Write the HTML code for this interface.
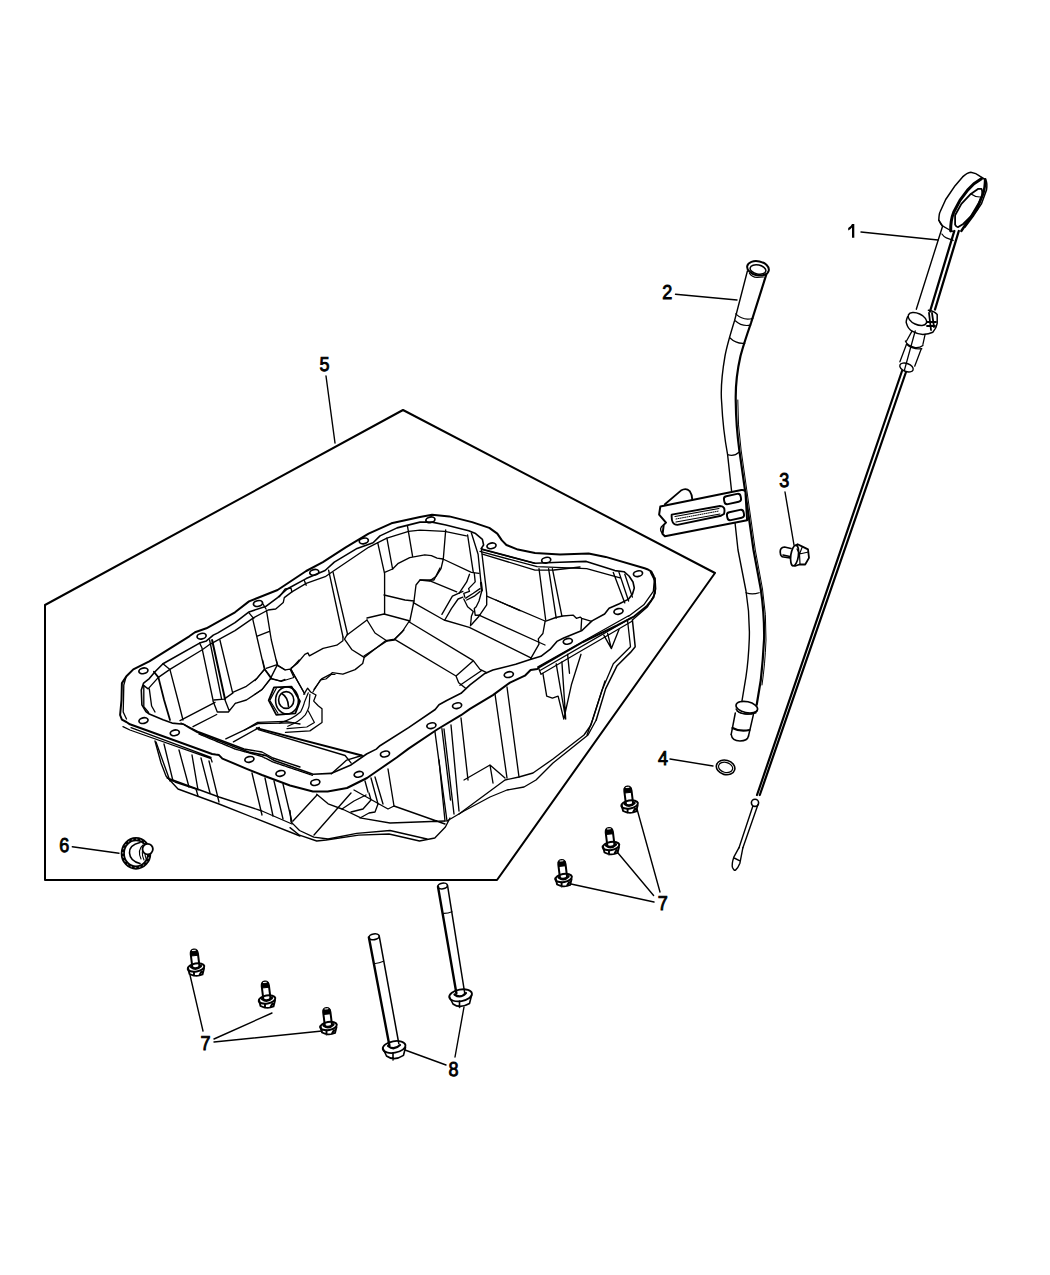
<!DOCTYPE html>
<html><head><meta charset="utf-8">
<style>
html,body{margin:0;padding:0;background:#fff;}
body{width:1050px;height:1275px;overflow:hidden;}
svg{display:block;}
text{font-family:"Liberation Sans",sans-serif;text-rendering:geometricPrecision;font-size:20px;fill:#000;stroke:#000;stroke-width:0.9px;}
</style></head><body>
<svg width="1050" height="1275" viewBox="0 0 1050 1275">
<defs>
<g id="b7" fill="none" stroke="#000" stroke-linecap="round" stroke-linejoin="round">
<g transform="rotate(-7)">
<path d="M-3.6,-1 L-3.6,-14 Q-3.4,-18.2 0,-18.2 Q3.4,-18.2 3.6,-13.5 L3.6,-1" stroke-width="2"/>
<path d="M-3.4,-16.5 L3.4,-16.5 L3.4,-12 L-3.4,-12 Z" fill="#000" stroke-width="1"/>
<path d="M-1.5,-17.3 L1.5,-17.3" stroke="#fff" stroke-width="1"/>
</g>
<ellipse cx="0" cy="0" rx="8.4" ry="4" transform="rotate(-10)" stroke-width="2"/>
<path d="M-4.8,-0.5 Q0,3.2 4.8,-1.5" stroke-width="2.6"/>
<path d="M-7.8,1 L-6.5,6.5 Q0,10 6.5,7 L8,1 M-2,8.5 L-2,4.5 M3.5,7.5 L5.5,4" stroke-width="1.9"/>
</g>
</defs>

<g fill="none" stroke="#000" stroke-linecap="round" stroke-linejoin="round">
<!-- frame -->
<path id="frame" d="M45,605 L403,410 L715,573 L497,880 L45,880 Z" stroke-width="2"/>
<!-- leaders -->
<path d="M861,232 L938,240" stroke-width="1.4"/>
<path d="M675.5,294.2 L737,300" stroke-width="1.4"/>
<path d="M785,492 L794,545" stroke-width="1.4"/>
<path d="M670,759 L713,766" stroke-width="1.4"/>
<path d="M326,376 L335,443" stroke-width="1.4"/>
<path d="M72.3,846.8 L119,853.2" stroke-width="1.4"/>
<path d="M637,809 L660,892 M618,853 L653.6,895.5 M571,884 L654,902" stroke-width="1.4"/>
<path d="M203,1031 L190,975 M214,1039 L272,1013 M214,1042 L322,1031" stroke-width="1.4"/>
<path d="M446,1065 L405,1050 M455,1057 L464,1007" stroke-width="1.4"/>
</g>

<!-- pan -->
<g id="pan" fill="none" stroke="#000" stroke-linecap="round" stroke-linejoin="round">
<path stroke-width="2" d="M121.5,700 L120.1,715 L121.9,719.7 L126.4,722 L129.9,724.3 L212.1,754 L215.6,754.6 L219,755.1 L222.4,758.6 L246.7,768.8 L262,775 L290,785.5 L312.9,791.5 L327.7,791.5 L347,788 L367,778 L380,769 L396.7,757.5 L408.6,748.6 L437.1,729.5 L461,715.2 L470,708.9 L492.9,695.1 L510,682.6 L524.9,675.7 L530.6,670 L537.4,668.9 L538.6,667.7 L582.9,642 L617,625.4 L634.3,616.3 L646.9,606 L651,601 L653.7,596.9 L655.4,588.9 L655,582 L653.7,576.3 L651.4,571.7 L648,569.5 L644.6,568.3 L605.7,556.9 L588.6,553.4 L560,554.6 L535,553 L517.9,549.6 L506.4,545 L501.9,540.4 L497.3,533.6 L489.3,527.9 L472.1,522.1 L449.3,516.4 L432.1,514.7 L420,517 L391.4,523.3 L368.6,533.6 L345.7,547.3 L322.9,562.1 L306.2,571 L277.6,590 L249,601.4 L235,612.3 L206.4,628.3 L195,632.3 L189.3,636.3 L149.3,661.4 L133.3,669.4 L126.4,676.3 L121.9,683.1 Z"/>
<path stroke-width="1.6" d="M141.3,690 L141.9,704.9 L145.9,711.7 L149.3,714 L163,719.7 L172.1,723.1 L183.6,724.3 L189.3,727.7 L197.3,732.3 L235,747.1 L250,752.4 L266.2,755.6 L274.3,760.5 L313.1,774.2 L331,773.4 L350.4,765.3 L366.6,754 L376.3,749.1 L380,745.7 L408.6,727.6 L435.2,709.5 L439,704.8 L446.7,700.5 L461,693.3 L470,684.9 L484.9,673.4 L492.9,670 L502,667.7 L515.7,664.3 L529.4,659.7 L540.9,656.3 L550,649.4 L556.9,641.4 L563.7,638 L582,630.5 L592,620.9 L604.6,614 L609.1,608.3 L619.4,603.7 L628.6,599.1 L632.5,594 L634.3,588 L633,582 L629,576 L624,571.7 L614.9,570.6 L586.3,561.4 L560,562.3 L535,563.3 L483.6,549.6 L481.3,548.4 L483.6,545 L482.4,539.3 L475.6,533.6 L468.7,530.7 L445.9,525 L432.1,522.1 L420,522.1 L397.1,527.9 L380,535.9 L373.1,542.7 L357.1,548.4 L334.3,562.1 L325.1,570.5 L306.2,578.6 L287.1,589 L277.6,597.6 L266.2,606.2 L249,611.9 L235,622.6 L217.9,632.9 L213.3,635.1 L206.4,640.9 L199.6,643.1 L163,663.7 L155,671.7 L149.3,678.6 L143.6,683.1 Z"/>
<path stroke-width="1.3" d="M123,726.6 L129.9,730 L211,758.6 L212.1,762 M131,727.7 L211,757.4 M538,666.7 L628.6,615.8 M540,670.5 L630.5,618.1 M541,674.3 L632.4,621 M538,666.7 L541,674.3 M628.6,616.2 L643.8,604.8 L653.3,591.4 L654.3,580 L650.5,572.4 M632.4,620 L647.6,606.7 L655.2,593.3 L655.2,578"/>
<path stroke-width="1.5" d="M596.2,720 L605.7,688.6 L617.1,665.7 L630.5,652.4 L635.2,646.7 L632.4,620"/>
<path stroke-width="1.3" d="M627.6,621 L630.5,646.7 L613.3,663.8 L601.9,690.5 L592.4,720 L587,735"/>
</g>

<g id="interior" fill="none" stroke="#000" stroke-width="1.35" stroke-linecap="round" stroke-linejoin="round">
<!-- left end & left wall -->
<path d="M143.6,685.4 L148.1,688.9 L158.4,677.4 L169.9,669.4 L201.9,650 L209.9,644.3 L235,630.6 L253.8,617.6 L268.1,610 L275.7,609 L283.3,602.4 L284.3,597.6 L291.9,591.9 L306.2,583.3 L325.2,576.7 L333.1,571.3 L368.6,547.3 L375.4,543.9 L386.9,538.1 L408.6,531.3 L420,530.1 L444.7,531.3 L466.4,535.9"/>
<path d="M126,677 L123.8,685 L123.2,712 L126.5,719 M143.8,685.7 L143.8,706.7 L148.6,712.4 M149.3,688.9 L151.6,706 L155,712"/>
<path d="M153.9,671.7 L158.4,677.4 L164.1,700 L170,720" stroke-width="1.8"/>
<path d="M163,663.7 L169.9,669.4 L177.9,700 L183,720"/>
<path d="M199.6,643.1 L201.9,647.7 L213,700 M209.6,640 L221.6,699.1 M219.9,640 L232.7,693.1" />
<path d="M212.1,640 L225,699.1" stroke-width="2"/>
<path d="M252.8,619.4 L257.6,640 L264.4,669.1 M266.5,610.3 L271.3,640 L277.3,664.9 M257.3,636.2 L268.8,631.6"/>
<path d="M232.7,692.3 L246.4,686.3 L256.7,678.6 L264.4,669.1 L270.4,677.7"/>
<path d="M235.3,703.4 L246.4,700 L261.9,689.7 L270.4,678.6 L277.3,664.9"/>
<path d="M266.1,668.3 L276.4,664.9 L285,670 M270.4,678.6 L280.7,681.1 L285,679.4"/>
<path d="M213,700.9 L217.3,712 L228.4,712 L235.3,703.4 M225,700 L229.3,711.1 M213.9,700 L224.1,699.1 L232.7,693.1"/>
<path d="M180,720.6 L215,702.3 M193,726.7 L216.7,714.5"/>
<path d="M244.7,730 L257.6,722.3 L285,721.4 L300,724"/>
<!-- back-left walls -->
<path d="M328.6,570.1 L343,637 M333.1,572.4 L347.5,634"/>
<path d="M377.7,542.7 L384.6,573.6 L384.6,614 M386.9,538.1 L392.6,569 M407.4,525.6 L412.6,556.4"/>
<path d="M384.6,572.4 L392.6,569 L398.3,563.3 L409.7,557.6 L424.8,554.8 L431.4,555.7 L437.1,558.1 L442.9,559"/>
<path d="M440,568 L434,580 L420,580 L416,585 L414,601 L410,620 L402,632 L394,640"/>
<path d="M384,595 L405,600 L414,601 M367,618 L384,614 L410,621 M367,620 L375,633 L387,641 L394,640"/>
<path d="M429.4,580.7 L456.7,591.8 M409.3,622 L473.3,660.7 L480,669.3 L486.7,672.7 M394.7,639.3 L456,676 L458.7,682.7 L465.3,688 M456,676 L473.3,660.7 M460,685.3 L481.3,670.7 M413.3,602.7 L444,620 L469.3,627.3 L531.4,658.1 M496,600 L520,610.7 M347,635 L367,620 M364,656 L387,641"/>
<path d="M291.1,668.1 L297.2,663.5 L304.8,654.4 L307.9,652.9 L309.4,655.9 L323.1,648.3 L336.8,645.2 L342.9,640.7 L343,637"/>
<path d="M347.5,634 L344.5,639.1 L352,649.8 L364.2,657.4 L385.6,640.7 L394.7,639.1 L403.9,630"/>
<path d="M314,689.4 L321.6,678.8 L330.7,674.2 L332.2,672.7 L342.9,674.2 L355.1,669.6 L362.7,663.5 L364.2,657.4"/>
<path d="M291.1,669.6 L304.8,694"/>
<!-- sump / right back -->
<path d="M445.7,530 L443.3,559 L441,568.6 L436.2,576.2 L429.5,581 L420,580"/>
<path d="M442.9,559 L471.4,572.4 L479,573.3"/>
<path d="M469.5,574.3 L466.7,581.9 L459,593.3 M474.3,573.3 L475.2,581.9 L468.6,588.6 L469.5,591.4 L463.8,593.3 L464.8,597.1"/>
<path d="M465.7,598.1 L473.3,593.3 L480,588.6 M466.7,600 L474.3,596.2 L480,591.4"/>
<path d="M481,582.9 L481.9,590.5" stroke-width="2.2"/>
<path d="M467.6,535 L473.3,572.4 M471.4,533 L478.1,554.3 L481,582.9 M481.3,548.4 L486.7,593.3 L486.7,604.8 L479,616.2 L471.4,624.8"/>
<path d="M481.9,590.5 L479,601 L476.2,606.7 L474.3,608.6 L475.2,615.2 L480,615.2"/>
<path d="M463.8,599 L467.6,606.7 L473.3,611.4 L471.4,616.2 L470.5,625.7"/>
<path d="M479,615.2 L545,645 M486.7,596.2 L545,621"/>
<path d="M441.9,614.3 L452.4,596.2 L462.9,591.4 M444.8,620 L451.4,608.6 L458.1,599 L462.9,597.1"/>
<path d="M482.4,549.6 L535,563.3 M482.4,554.1 L535,570.1 L554,570 L580,567"/>
<path d="M539,568.6 L545.7,620 M548.6,568.6 L556.2,618.1 M552.4,568.6 L561.9,616.2 M613.3,572.4 L624.8,602.9 M619,572.4 L628.6,601 M624.8,574.3 L632.4,597.1 M480,551.4 L537.1,566.7 L586.7,568.6 L621,578.1"/>
<path d="M530.7,658.7 L539,644.2 L538.3,638.9 L542.9,633.5 L545.1,621.3 L555.8,617.5 L562.7,616 L573.3,615.2 L576.4,618.3 L580.2,617.1 L581.7,618.3 L591.6,621.3 M581.7,618.3 L581,629.7"/>

<path d="M256.8,728.1 L361.9,755.5" stroke-width="2"/>
<path d="M258.3,729.6 L345.1,755.5 L351.2,763.1 M233.4,741.9 L259.3,727.4 M331.4,773.8 L346.7,760.1 L361.9,755.5 M225.8,738.9 L257.8,723.6 L293.3,722.8"/>
<path d="M199,734 L235,749 L262,756.5 L273,762 L313,775.5" stroke-width="1.4" stroke-dasharray="1.2 0.9"/>
<path d="M279.5,596.7 L285.2,589 L291,588.1 L291.9,591.9 M304.3,580.5 L306.2,585.2 M249,612.9 L253.8,618.6 M263,604 L266,609"/>
</g>

<g id="front" fill="none" stroke="#000" stroke-width="1.35" stroke-linecap="round" stroke-linejoin="round">
<ellipse cx="143.4" cy="670.8" rx="4.6" ry="2.8" transform="rotate(-12 143.4 670.8)" stroke-width="1.7"/><ellipse cx="201.6" cy="636.2" rx="4.6" ry="2.8" transform="rotate(-12 201.6 636.2)" stroke-width="1.7"/><ellipse cx="258" cy="603.5" rx="4.6" ry="2.8" transform="rotate(-12 258 603.5)" stroke-width="1.7"/><ellipse cx="314.3" cy="572.3" rx="4.6" ry="2.8" transform="rotate(-12 314.3 572.3)" stroke-width="1.7"/><ellipse cx="363.8" cy="540.9" rx="4.6" ry="2.8" transform="rotate(-12 363.8 540.9)" stroke-width="1.7"/><ellipse cx="430.4" cy="519.8" rx="4.6" ry="2.8" transform="rotate(-12 430.4 519.8)" stroke-width="1.7"/><ellipse cx="491.5" cy="545.8" rx="4.6" ry="2.8" transform="rotate(-12 491.5 545.8)" stroke-width="1.7"/><ellipse cx="546.2" cy="560.2" rx="4.6" ry="2.8" transform="rotate(-12 546.2 560.2)" stroke-width="1.7"/><ellipse cx="638" cy="573.7" rx="4.6" ry="2.8" transform="rotate(-12 638 573.7)" stroke-width="1.7"/><ellipse cx="143.5" cy="720.6" rx="4.6" ry="2.8" transform="rotate(-12 143.5 720.6)" stroke-width="1.7"/><ellipse cx="174.8" cy="732.8" rx="4.6" ry="2.8" transform="rotate(-12 174.8 732.8)" stroke-width="1.7"/><ellipse cx="249.4" cy="759.4" rx="4.6" ry="2.8" transform="rotate(-12 249.4 759.4)" stroke-width="1.7"/><ellipse cx="280.5" cy="773.4" rx="4.6" ry="2.8" transform="rotate(-12 280.5 773.4)" stroke-width="1.7"/><ellipse cx="315.3" cy="782.5" rx="4.6" ry="2.8" transform="rotate(-12 315.3 782.5)" stroke-width="1.7"/><ellipse cx="358.7" cy="774.3" rx="4.6" ry="2.8" transform="rotate(-12 358.7 774.3)" stroke-width="1.7"/><ellipse cx="385" cy="754" rx="4.6" ry="2.8" transform="rotate(-12 385 754)" stroke-width="1.7"/><ellipse cx="431.4" cy="725.7" rx="4.6" ry="2.8" transform="rotate(-12 431.4 725.7)" stroke-width="1.7"/><ellipse cx="457.1" cy="705.7" rx="4.6" ry="2.8" transform="rotate(-12 457.1 705.7)" stroke-width="1.7"/><ellipse cx="508.8" cy="674.6" rx="4.6" ry="2.8" transform="rotate(-12 508.8 674.6)" stroke-width="1.7"/><ellipse cx="567.8" cy="641.3" rx="4.6" ry="2.8" transform="rotate(-12 567.8 641.3)" stroke-width="1.7"/><ellipse cx="618.5" cy="611.4" rx="4.6" ry="2.8" transform="rotate(-12 618.5 611.4)" stroke-width="1.7"/>

<path d="M181,723 L193,729 L199,732 L244,749 L262,752 L273,758 L300,767"/>
<path d="M155,741 L161,763 L166,776 L178,789 L219,804 L300,836"/>
<path d="M170,779 L219,797 L262,811 L292,824"/>
<path d="M156,742 L170,781 M164,744 L173,781 M179,750 L189,787 M192,755 L198,790 M201,758 L210,793 M209,761 L219,802 M252,773 L262,815 M265,778 L273,816 M274,781 L283,819 M283,784 L292,822"/>
<path d="M167,778 L175,782 L196,789 L198,796"/>
<path d="M290,827.6 L299.5,835.2 L316.7,841 L326.2,840 L358.6,835.2 L389,834 L419.5,841 L434.8,838 L445.4,827 L450,818"/>
<path d="M290,810.5 L291,821.9 L299.5,830.5 L313.8,837.1 L328.1,839 L356.7,833.3 L390,830.5 L427,839"/>
<path d="M293,821 L317,795 M314,835 L351,793"/>
<path d="M316.7,794.3 L328.1,803.8 L343.3,809.5 L361.4,818.1 L390,823 L445,821 M354,790 L388,809 L394,806 L445,824"/>
<path d="M342,809 L354,801 L366,795 M351,812 L363,809 L371,800 L369,793 M360,818 L369,813 L375,812 L378,804"/>
<path d="M365,781 L368,792 M371,778 L378,804 M375,777 L383,804 M388,769 L394,806 M439,760 L445,821"/>
<path d="M447,821 L464,811 L490,797 L507,790 L524,787 L536,780 L553,763 L588,735 L596.2,720"/>
<path d="M459,814 L505,780 L519,777 L533,773 L553,759 L584,735 L591,725 L605,681"/>
<path d="M435,732 L447,821 M441.9,728.6 L450.5,800 M444,729 L454,814 M451,725 L459,811 M461,718 L468,780 M495,694 L507,778 M507,687 L519,777"/>
<path d="M464,780 L490,765 L505,778 M490,765 L493,783"/>
<path d="M542.9,673.3 L546.7,696.2 L552.4,698.1 L558.1,696.2 L563.8,719 L571.4,684.8 L581,654.3 M556.2,663.8 L565.7,719 M561.9,661.9 L565.7,719 M567.6,654.3 L569.5,673.3 M603.8,635.2 L611.4,648.6 L619,629.5 M607.6,633.3 L611.4,648.6"/>

</g>

<g id="parts" fill="none" stroke="#000" stroke-linecap="round" stroke-linejoin="round">
<!-- tube 2 -->
<ellipse cx="758" cy="268.3" rx="11" ry="7" transform="rotate(12 758 268.3)" stroke-width="2"/>
<ellipse cx="758" cy="269.5" rx="8" ry="4.5" transform="rotate(12 758 269.5)" stroke-width="1.5"/>
<path d="M749.5,273.3 Q752,277 757,277.5 L763.3,277" stroke-width="1.2"/>
<path d="M747.4,271 L734.6,320.5 Q727,345 725,356 Q720,385 721.7,403 Q723,430 727.6,454.6 L738,550 L746,591 Q750,615 749.3,638.8 Q748.5,660 746,676.7 L741.9,701.4" stroke-width="1.4"/>
<path d="M766.4,274.2 L751,323 Q744,343 740.5,356 Q735,380 735.8,403 Q736,425 739.3,450 L753.5,550 L760.8,589.4 Q764.5,615 764.1,638.8 Q763,660 760.8,680 L756.7,704.7" stroke-width="2.2"/>
<path d="M737.8,400 Q737.6,425 741.1,450 L755.3,550 L762.5,589 Q766.5,615 766,640 Q765,665 762,685" stroke-width="1" />
<path d="M735.7,313.9 Q744,321.5 753,318.2 M735.3,320.8 Q742,327 750.8,325 M730.1,338 Q736,344 744.8,343.2 M727.6,454.6 Q734,457 739.3,452 M746,592.7 Q752,595 759.2,592.7" stroke-width="1.2"/>
<!-- tube lower connector -->
<ellipse cx="746.8" cy="707.2" rx="11" ry="5.5" transform="rotate(12 746.8 707.2)" stroke-width="1.6"/><path d="M736,709 Q738,713.5 746,714 Q754,715 757,711" stroke-width="1.3"/>
<path d="M737,711 Q744,716 756,713" stroke-width="1.2"/>
<path d="M735.3,713 L731.2,734.4 M753.4,714.6 L748.5,736" stroke-width="1.5"/>
<path d="M732.5,728 Q740,732 749.5,730" stroke-width="2.2"/>
<path d="M731.2,734.4 Q732,741 740,741 Q747.5,741 748.5,736" stroke-width="1.5"/>
<!-- bracket -->
<path d="M660.3,506.6 L741.4,490 Q746,489.5 745.5,494 L747.1,520.3 L664.9,536.3 L662.6,534 L663.7,524.9 L666,522.6 L659.1,514.6 Z" stroke-width="2" fill="#fff"/>
<path d="M664.9,504.3 L680.9,490.6 Q686,487.5 689.7,491.1 Q692.3,495 692.3,499.7" stroke-width="1.8"/>
<path d="M671.7,514.6 L720,506 Q726,506 724,514 L721,515.7 L677.4,524.9 Q671,525 671.7,514.6 Z" stroke-width="1.9"/>
<path d="M675,516.5 L719,508.5 M676,522 L720,514" stroke-width="1.2"/><path d="M676,519 L719,511" stroke-width="1" stroke-dasharray="1 1.2"/>
<rect x="724" y="495" width="17" height="8" rx="3" transform="rotate(-12 732.5 499)" stroke-width="1.9"/>
<rect x="727" y="511" width="17" height="8" rx="3" transform="rotate(-12 735.5 515)" stroke-width="1.9"/>
<path d="M663.7,524.9 Q658,528 662.6,534" stroke-width="1.4"/>
<!-- dipstick 1 -->
<path d="M942.5,226 L938.8,220.2 Q939,214 940,212 L945.7,199.5 L955.1,185.7 L962.6,176.9 Q967,172.5 970.8,172.2 Q976,173 980.2,176.3 L985.8,180 Q987.5,183 986.5,190.1 L981.4,203.9 L973.9,215.2 L965.1,227.1" stroke-width="1.5"/>
<path d="M981.4,178.8 L973.9,183.8 L967.6,190.1 L960.1,200.1 L953.8,212 Q950.5,220 950.7,230.9" stroke-width="3"/>
<path d="M955.1,224.6 Q956.5,227.5 958.2,227.1 L963.2,224 L970.8,216.4 L978.9,202.6 L982.1,195.1 Q982.5,190 981.4,188.8 L978.3,188.8 L970.8,193.9 L961.4,203.9 L955.1,215.2 Z" stroke-width="1.8"/>
<path d="M971,194 Q975,197 980,197" stroke-width="1.2"/>
<path d="M985.2,179.4 Q985,188 983.3,193.2 L977,208.9 L967.6,221.5 L961.4,230.9" stroke-width="2.6"/>
<path d="M938.8,220.2 Q941,225 942.5,225.9 L950.1,230.2 L954.5,232.1 M941.9,234 Q944,237 946.3,237.8 L953.2,240.3" stroke-width="1.3"/>
<path d="M942.5,226.5 L916.3,309.2" stroke-width="1.4"/>
<path d="M954.3,231 L930,311.5 M958.8,231 L935,309.5" stroke-width="2.3"/>
<path d="M907.6,316.8 Q905.5,322 906.5,323.4 Q908,329 912,331.1 Q917,334 922.9,334.4 Q929,334 932.8,332.2 Q936.5,328 937.2,323.4 L937.2,314.6 Q934,311 928.4,310.3" stroke-width="1.5"/>
<ellipse cx="917.4" cy="319" rx="9.9" ry="5.5" transform="rotate(25 917.4 319)" stroke-width="1.5"/>
<path d="M929,313 L931,330 M932,313 L934,327 M927,322 L936,322 M927,326 L935,326" stroke-width="1.8"/>
<path d="M912,331.1 L906.5,341 M925.1,334.4 L922.9,344.3 M905.4,341 Q907,345.5 915.2,347.6 Q920,348 922.9,345.4 M906.5,344.3 Q912,349.5 921.8,348.7" stroke-width="1.3"/>
<path d="M906.5,344.3 L899.9,361.8 M921.3,348.7 L914.7,366.2 M915.2,331 L904.3,370.6" stroke-width="1.3"/>
<ellipse cx="906.5" cy="367.5" rx="7" ry="4" transform="rotate(20 906.5 367.5)" stroke-width="1.4"/>
<path d="M902,371 L757,795" stroke-width="2.2"/><path d="M906,372 L759.8,795" stroke-width="2.2"/>
<circle cx="755" cy="802.8" r="3.6" stroke-width="1.6"/>
<path d="M752.8,806.3 L739,847.7 M758,804.5 L742.9,847.7" stroke-width="1.4"/>
<path d="M739,847.7 L733.8,857.2 Q731.5,864 732.5,867.5 Q734,871 735.5,870.1 Q738,868 739.9,863.2 L742.9,847.7 M734.2,858 L739.4,860.6" stroke-width="1.4"/>
<!-- bolt 3 -->
<path d="M791,548.5 L784.5,547 Q780,547.5 780.2,552 Q780.5,557 783.5,557 L790.1,557.9" stroke-width="1.7"/>
<path d="M783,555 L790,556.5" stroke-width="1.6"/>
<ellipse cx="794.6" cy="555.5" rx="3.8" ry="10.5" transform="rotate(8 794.6 555.5)" stroke-width="1.7"/>
<path d="M796,545.5 L797.6,544.2 L802.4,546.6 L808,549.4 L809,557.9 L805.2,564.5 L799.5,564.5 L795,566" stroke-width="1.8"/>
<path d="M802.4,546.6 L799.5,554 L800,564 M797,549 L799.5,554 M799.5,554 L808.5,552" stroke-width="1.2"/>
<!-- ring 4 -->
<ellipse cx="725.6" cy="767.4" rx="9.4" ry="7.2" transform="rotate(15 725.6 767.4)" stroke-width="1.6"/>
<ellipse cx="725.6" cy="767.4" rx="7.2" ry="5" transform="rotate(15 725.6 767.4)" stroke-width="1.2"/>
<!-- plug 6 -->
<ellipse cx="136" cy="853.4" rx="13.2" ry="14.2" stroke-width="4.2"/>
<ellipse cx="136" cy="853.4" rx="13.2" ry="14.2" stroke="#fff" stroke-width="0.7" stroke-dasharray="0.8 3.5"/>
<path d="M140,842.5 Q129,845 129.5,853 Q130,861 140,863.5" stroke-width="1.6"/>
<path d="M143,845 Q137,850 141,859 M145.5,845 Q140,851 144,860 M148,847 Q143,852 146.5,860" stroke-width="1.1"/>
<circle cx="147.7" cy="849.1" r="5.2" fill="#fff" stroke-width="1.8"/>
</g>

<g id="bolts">
<use href="#b7" transform="translate(629.6,804.5)"/>
<use href="#b7" transform="translate(611,846)"/>
<use href="#b7" transform="translate(563.6,878)"/>
<use href="#b7" transform="translate(196,967.5)"/>
<use href="#b7" transform="translate(267,999.5)"/>
<use href="#b7" transform="translate(328.5,1026)"/>
</g>
<g id="long" fill="none" stroke="#000" stroke-linecap="round" stroke-linejoin="round">
<ellipse cx="374.1" cy="936.8" rx="5.2" ry="2.9" transform="rotate(-10 374.1 936.8)" stroke-width="1.6"/>
<path d="M368.9,937.5 L389.4,1045.5" stroke-width="2.4"/>
<path d="M379.3,936.5 L398.8,1043.5" stroke-width="1.5"/>
<path d="M375.3,963.5 Q379,963 383.5,961.2" stroke-width="1.2"/>
<ellipse cx="394.1" cy="1047" rx="11.5" ry="5.8" transform="rotate(-10 394.1 1047)" stroke-width="1.8"/>
<path d="M388,1046 Q394,1051 400,1045" stroke-width="2.2"/>
<path d="M383,1048.5 L386.5,1056 Q394,1061.5 403.5,1055.3 L405.5,1047.5 M393,1060 L393,1053" stroke-width="1.6"/>
<ellipse cx="442.6" cy="886" rx="4.9" ry="2.8" transform="rotate(-10 442.6 886)" stroke-width="1.6"/>
<path d="M438,886.8 L456.4,993.3" stroke-width="2.4"/>
<path d="M447.6,885.8 L464.7,993" stroke-width="1.5"/>
<path d="M443.7,913.4 Q448,913.5 451.9,911.7" stroke-width="1.2"/>
<ellipse cx="460.6" cy="995.3" rx="11.5" ry="5.8" transform="rotate(-10 460.6 995.3)" stroke-width="1.8"/>
<path d="M454.5,994.5 Q460.5,999 466,993" stroke-width="2.2"/>
<path d="M449.5,997 L453,1004 Q460,1009 469.5,1003.5 L471.5,995.5 M459.5,1007.5 L459.5,1001" stroke-width="1.6"/>
</g>

<g id="nut" fill="none" stroke="#000" stroke-linecap="round" stroke-linejoin="round">
<path d="M268.7,700.4 L274,687.4 L291.6,686.7 L300,701.1 L295.4,713.3 L276.3,714.9 Z" stroke-width="1.8"/>
<path d="M270.2,699.6 L276.3,688.2 M270.2,701 L277.9,713.3" stroke-width="1.2"/>
<ellipse cx="287" cy="700.4" rx="11.4" ry="13.5" stroke-width="1.6"/>
<ellipse cx="286.2" cy="700" rx="7.6" ry="8.4" stroke-width="1.6"/>
<path d="M281.7,693.5 Q288,697 288.5,706.5" stroke-width="1.6"/>
<path d="M303.8,694.3 L307.6,688.2 L310.6,692 L316,695 L313.7,701.1 L318.2,705.7 L322,708.8 L322,722.5 L309.9,730.9 L285.5,732.4" stroke-width="1.3"/>
<path d="M308.3,711 L314.4,722.5 L306.8,727 L287,728.6" stroke-width="1.2"/>
<path d="M279.4,723.2 Q293,719 300.7,711.8 Q304,705 304.5,701.9 L308.3,692.8" stroke-width="1.2"/>
<path d="M287.8,726.3 Q299,722 305.3,714.9 Q309,708 309.1,705.7 L309.9,694.3" stroke-width="1.2"/>
<path d="M290.8,669.1 L304.5,693.5 M312.9,692 L320.5,679.8 L325.9,679 L331.2,674.5 L335,674.5" stroke-width="1.2"/>
<path d="M255,694.3 L262.6,689 L271,678.3 L281.7,681.3 L293.9,677.5 L290,669.1 L285.5,669.9 L277.9,665.3 L276.3,660 M264.9,669.1 L271.8,678.3 M262.6,660 L264.9,669.1 L255,680.6 M299.2,660 L290.8,669.1" stroke-width="1.2"/>
</g>
<g id="labels">
<path d="M852,224 L854.3,224 L854.3,237.8 L852,237.8 L852,227.6 Q850.5,229.5 848.2,230.4 L848.2,228 Q851,226.6 852,224 Z" fill="#000" stroke="none"/>
<text x="0" y="0" text-anchor="middle" transform="translate(667.3,298.5) scale(0.9,1)">2</text>
<text x="0" y="0" text-anchor="middle" transform="translate(784.2,487) scale(0.9,1)">3</text>
<text x="0" y="0" text-anchor="middle" transform="translate(663.1,764.5) scale(0.9,1)">4</text>
<text x="0" y="0" text-anchor="middle" transform="translate(324.6,370.8) scale(0.9,1)">5</text>
<text x="0" y="0" text-anchor="middle" transform="translate(64.2,852.4) scale(0.9,1)">6</text>
<text x="0" y="0" text-anchor="middle" transform="translate(662.7,910.3) scale(0.9,1)">7</text>
<text x="0" y="0" text-anchor="middle" transform="translate(205.5,1050.3) scale(0.9,1)">7</text>
<text x="0" y="0" text-anchor="middle" transform="translate(453.6,1076) scale(0.9,1)">8</text>
</g>
</svg>
</body></html>
